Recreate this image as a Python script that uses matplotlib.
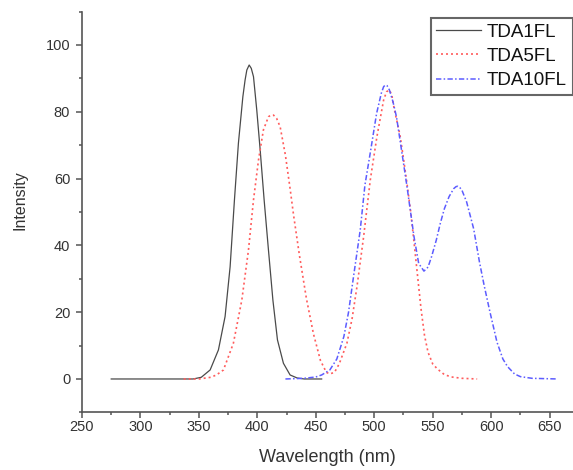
import matplotlib
matplotlib.use("Agg")
import matplotlib.pyplot as plt
from matplotlib.ticker import MultipleLocator

plt.rcParams['font.family'] = ['Liberation Sans', 'DejaVu Sans']

# TDA1FL (black, solid)
wl_1 = [275, 300, 325, 345, 352, 359.6, 366.7, 372.4, 376.7, 380.4, 383.8, 387.6,
        389.5, 391, 393, 394.8, 396.7, 399.5, 402.4, 405.8, 409.5, 413.3, 417.2,
        422.3, 428, 434, 440, 455]
int_1 = [0, 0, 0, 0, 0.5, 2.7, 8.7, 18.7, 33.6, 53.6, 70.6, 84.5,
         89.5, 92.5, 94, 93, 90.5, 80.5, 68.6, 53.6, 38.6, 23.6, 11.7,
         4.7, 1.2, 0.3, 0, 0]

# TDA5FL (red, dotted)
wl_5 = [337, 350, 360, 365, 371, 379.5, 386.7, 392.4, 396.7, 401, 405.2, 409.5,
        411.5, 413.8, 416.5, 419.5, 424, 428, 431, 436, 442, 448, 454, 459, 462,
        466, 470, 476.6, 481, 485.2, 490.9, 496.6, 502.3, 508, 510.5, 513, 515,
        517, 522, 525, 528, 531, 534, 537, 540, 543, 546, 550, 554, 560, 566,
        575, 588]
int_5 = [0, 0, 0.5, 1.2, 2.7, 10.7, 23.6, 38.6, 53.6, 65.6, 74.6, 78.5,
         79, 79, 78, 75.5, 67, 57, 49, 37, 24, 13.5, 5.5, 2, 1.5,
         2, 4.5, 10.7, 18, 27.6, 42.6, 59.6, 72.6, 83.5, 86, 86.5, 85,
         81, 73, 66, 58.5, 50.5, 41, 31, 21, 13, 8, 4.5, 3, 1.3, 0.6,
         0.2, 0]

# TDA10FL (blue, dash-dot)
wl_10 = [424, 440, 450, 455, 462, 468, 474, 478, 482, 488, 492, 497, 502, 506,
         508, 509.4, 511, 513, 516, 519, 522, 528, 534, 538, 542.5, 546, 549,
         553, 556.5, 560, 564, 568, 570, 571.5, 573, 575, 579, 585, 590, 594,
         599, 605, 610, 614, 620, 625, 635, 657]
int_10 = [0, 0.2, 0.6, 1.2, 2.7, 6, 12.7, 20, 30, 44.6, 58, 68.6, 79.5, 85.5,
          87.5, 88, 87.8, 86.5, 83, 78.5, 71.6, 57.6, 42.6, 34.6, 32.3, 33.5, 36.6,
          41.5, 46.6, 51, 54.6, 57, 57.6, 57.7, 57.4, 56.5, 53, 45, 35, 28,
          20, 11, 6, 3.7, 1.5, 0.7, 0.2, 0]

fig = plt.figure(figsize=(5.73, 4.70), dpi=100)
ax = fig.add_axes([0.1431, 0.1226, 0.8569, 0.8528])

ax.plot(wl_1, int_1, color="#4a4a4a", lw=0.9, label="TDA1FL")
ax.plot(wl_5, int_5, color="#ff5c5c", lw=1.2, ls=(0, (1.2, 1.8)), label="TDA5FL")
ax.plot(wl_10, int_10, color="#5c5cff", lw=1.1, ls=(0, (3.5, 1.5, 1, 1.5)), label="TDA10FL")

ax.set_xlim(250, 670)
ax.set_ylim(-10, 110)
ax.xaxis.set_major_locator(MultipleLocator(50))
ax.xaxis.set_minor_locator(MultipleLocator(25))
ax.yaxis.set_major_locator(MultipleLocator(20))
ax.yaxis.set_minor_locator(MultipleLocator(10))

for s in ["top", "right"]:
    ax.spines[s].set_visible(False)
for s in ["left", "bottom"]:
    ax.spines[s].set_color("#555555")
    ax.spines[s].set_linewidth(1.2)

ax.tick_params(which="major", direction="out", length=4.5, width=1.1,
               color="#555555", labelsize=10.5, labelcolor="#333333")
ax.tick_params(which="minor", direction="out", length=2.5, width=1.1, color="#555555")
ax.tick_params(axis="x", which="major", pad=1)
ax.tick_params(axis="y", which="major", pad=4)

ax.set_xlabel("Wavelength (nm)", fontsize=13, color="#333333", labelpad=11)
ax.set_ylabel("Intensity", fontsize=11.5, color="#333333")
ax.yaxis.set_label_coords(-0.11, 0.53)

leg = ax.legend(loc="upper right", bbox_to_anchor=(0.999, 0.984), borderaxespad=0,
                fontsize=13.5, fancybox=False, handlelength=2.4, handletextpad=0.3,
                labelspacing=0.38, borderpad=0.3, framealpha=1)
leg.get_frame().set_edgecolor("#666666")
leg.get_frame().set_linewidth(1.5)
for t in leg.get_texts():
    t.set_color("#111111")

fig.savefig("out.png", dpi=100)
